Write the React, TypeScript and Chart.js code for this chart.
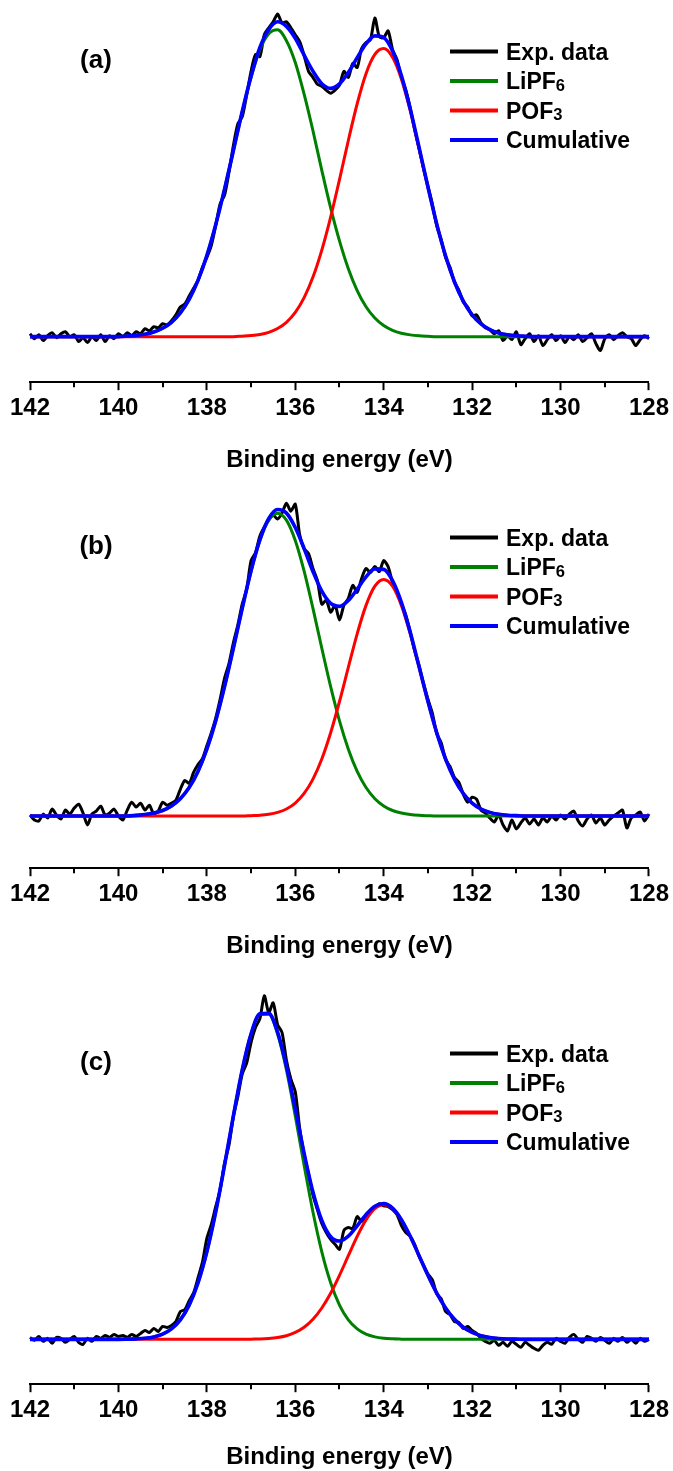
import React, { useEffect, useRef } from "react";
import { Chart, registerables } from "chart.js";

Chart.register(...registerables);

const FONT = "'Liberation Sans', Arial, Helvetica, sans-serif";

// Sampling of the spectra (binding energy, eV)
const EXP_START = 142;
const EXP_STEP = 0.1; // experimental data: 142.0 -> 128.0
const FIT_START = 142;
const FIT_STEP = 0.2; // fitted components: 142.0 -> 128.0

const xTickValues = [142, 140, 138, 136, 134, 132, 130, 128];
const xMinorTicks = [141, 139, 137, 135, 133, 131, 129];
const seriesLabels = ["Exp. data", "LiPF₆", "POF₃", "Cumulative"];
const seriesColors = ["#000000", "#008000", "#ff0000", "#0000ff"];
const panelLabels = ["(a)", "(b)", "(c)"];
const axisTitle = "Binding energy (eV)";

// ---------- Panel (a) ----------
const expA = [
  3, -2, 2, -4, 1, 4, -1, 3, 5, 0,
  2, -5, -1, -6, 0, -4, 2, -5, 1, -2,
  3, 0, 4, 1, 5, 3, 8, 6, 10, 9,
  13, 12, 16, 22, 30, 33, 41, 49, 57, 70,
  80, 92, 112, 134, 143, 166, 193, 215, 222, 244,
  268, 285, 283, 305, 312, 318, 326, 317, 318, 312,
  305, 298, 284, 268, 262, 255, 253, 249, 246, 249,
  254, 268, 262, 276, 272, 291, 297, 300, 322, 303,
  302, 309, 290, 280, 262, 249, 231, 209, 190, 170,
  152, 134, 112, 98, 80, 70, 55, 47, 35, 30,
  21, 22, 14, 9, 7, 3, 6, -4, 1, -3,
  5, -8, -2, 3, -5, 1, -9, -3, 2, -4,
  1, -6, 0, -3, 2, -5, -1, 3, -7, -14,
  -2, 2, -3, 1, 4, 0, -2, -9, -3, 1,
  -2,
];
const lipf6A = [
  0, 0, 0, 0, 0, 0, 0, 0, 0, 0, 0,
  0.6, 1.3, 2.5, 4.7, 8.5, 14.5, 23.9, 37.7, 56.8, 81.9,
  113, 149, 188, 227, 262, 290, 306, 310, 299, 277,
  245, 208, 168, 130, 96.7, 68.6, 46.6, 30.2, 18.8, 11.2,
  6.3, 3.4, 1.8, 0.9, 0.4,
  0, 0, 0, 0, 0, 0, 0, 0, 0, 0, 0, 0, 0, 0, 0, 0, 0, 0, 0, 0, 0, 0, 0, 0, 0,
];
const pof3A = [
  0, 0, 0, 0, 0, 0, 0, 0, 0, 0, 0, 0, 0, 0, 0, 0, 0, 0, 0, 0, 0, 0, 0, 0,
  0.5, 1.1, 2.2, 4.4, 8.2, 14.5, 24.5, 39.4, 60.2, 87.5,
  120.8, 158.7, 198.2, 235.3, 265.7, 285.1, 291, 282.2, 260.3, 228.3,
  190.3, 150.9, 113.7, 81.5, 55.5, 35.9, 22.1, 13.0, 7.2, 3.8,
  1.9, 0.9, 0.4,
  0, 0, 0, 0, 0, 0, 0, 0, 0, 0, 0, 0, 0, 0,
];

// ---------- Panel (b) ----------
const expB = [
  1, -4, -5, 2, -2, 7, 1, -3, 6, 2,
  8, 12, 3, -9, 2, 5, 10, 1, 3, 7,
  0, -4, 6, 14, 9, 13, 6, 11, 2, 5,
  14, 11, 13, 16, 27, 36, 33, 44, 52, 58,
  71, 84, 99, 118, 139, 154, 175, 193, 214, 229,
  258, 266, 283, 292, 299, 304, 300, 306, 316, 308,
  315, 284, 270, 265, 250, 238, 214, 218, 206, 213,
  198, 213, 220, 233, 226, 240, 250, 246, 252, 247,
  258, 252, 236, 226, 214, 203, 186, 167, 152, 134,
  118, 104, 83, 74, 57, 50, 39, 34, 22, 14,
  19, 17, 6, 3, -2, -6, 1, -9, -15, -4,
  -13, -7, -2, -8, -3, -9, -2, -6, 0, -4,
  1, -3, 2, 5, -5, -10, -3, 1, -7, -2,
  -9, -4, 0, 3, 6, -12, -2, 1, 4, -5,
  2,
];
const lipf6B = [
  0, 0, 0, 0, 0, 0, 0, 0, 0, 0, 0, 0,
  0.7, 1.5, 3.0, 5.6, 10.2, 17.5, 28.8, 45.1, 67.5, 96.1,
  130.7, 169.5, 209.7, 247.4, 278.4, 298.9, 306, 298.9, 278.4, 247.4,
  209.7, 169.5, 130.7, 96.1, 67.5, 45.1, 28.8, 17.5, 10.2, 5.6,
  3.0, 1.5, 0.7, 0.3,
  0, 0, 0, 0, 0, 0, 0, 0, 0, 0, 0, 0, 0, 0, 0, 0, 0, 0, 0, 0, 0, 0, 0, 0, 0,
];
const pof3B = [
  0, 0, 0, 0, 0, 0, 0, 0, 0, 0, 0, 0, 0, 0, 0, 0, 0, 0, 0, 0, 0, 0, 0, 0, 0,
  0.4, 0.8, 1.8, 3.7, 7.1, 13.1, 22.8, 37.3, 57.6, 84.1,
  115.7, 150.2, 184.1, 212.8, 232.2, 239, 232.2, 212.8, 184.1, 150.2,
  115.7, 84.1, 57.6, 37.3, 22.8, 13.1, 7.1, 3.7, 1.8, 0.8,
  0.4,
  0, 0, 0, 0, 0, 0, 0, 0, 0, 0, 0, 0, 0, 0, 0,
];

// ---------- Panel (c) ----------
const expC = [
  2, -1, 3, -2, 1, -4, 2, 1, -3, 0,
  3, -3, -5, 1, -2, 3, 1, 4, 2, 5,
  3, 4, 2, 5, 3, 6, 9, 7, 11, 8,
  13, 12, 14, 18, 28, 30, 39, 47, 62, 78,
  102, 116, 134, 151, 178, 196, 225, 245, 268, 279,
  300, 315, 324, 347, 330, 340, 318, 310, 282, 263,
  250, 213, 187, 167, 146, 131, 117, 108, 101, 96,
  91, 110, 113, 112, 124, 119, 125, 129, 133, 137,
  135, 134, 131, 126, 115, 108, 104, 96, 84, 75,
  66, 60, 46, 41, 28, 25, 18, 17, 11, 13,
  9, 6, 1, -2, -4, -1, -6, -3, -7, -2,
  -5, -8, -3, -6, -9, -11, -6, -3, -5, 1,
  -2, -4, 2, 5, 0, -3, 3, 1, -2, 2,
  -1, -4, 1, -2, 2, -3, 0, -4, 1, -2,
  0,
];
const lipf6C = [
  0, 0, 0, 0, 0, 0, 0, 0, 0, 0, 0,
  0.2, 0.5, 1.1, 2.5, 5.3, 10.6, 19.7, 34.6, 57.1, 88.4,
  128.6, 175.8, 225.7, 272.3, 308.5, 328.4, 328.4, 308.5, 272.3, 225.7,
  175.8, 128.6, 88.4, 57.1, 34.6, 19.7, 10.6, 5.3, 2.5, 1.1,
  0.5, 0.2,
  0, 0, 0, 0, 0, 0, 0, 0, 0, 0, 0, 0, 0, 0, 0, 0, 0, 0, 0, 0, 0, 0, 0, 0, 0, 0, 0, 0,
];
const pof3C = [
  0, 0, 0, 0, 0, 0, 0, 0, 0, 0, 0, 0, 0, 0, 0, 0, 0, 0, 0, 0, 0, 0, 0, 0, 0,
  0.2, 0.4, 0.9, 1.9, 3.7, 7.0, 12.2, 20.3, 31.7, 46.6,
  64.7, 84.5, 104.1, 120.7, 132.0, 136, 132.0, 120.7, 104.1, 84.5,
  64.7, 46.6, 31.7, 20.3, 12.2, 7.0, 3.7, 1.9, 0.9, 0.4,
  0.2,
  0, 0, 0, 0, 0, 0, 0, 0, 0, 0, 0, 0, 0, 0, 0,
];

type PanelCfg = {
  label: string;
  exp: number[];
  green: number[];
  red: number[];
  top: number;
  height: number;
  padTop: number;
  yMin: number;
  yMax: number;
  titleTop: number;
  titleBottom: number;
};

const panels: PanelCfg[] = [
  { label: panelLabels[0], exp: expA, green: lipf6A, red: pof3A, top: 0, height: 480, padTop: 10, yMin: -46, yMax: 330, titleTop: 21, titleBottom: 8 },
  { label: panelLabels[1], exp: expB, green: lipf6B, red: pof3B, top: 480, height: 490, padTop: 16, yMin: -52.7, yMax: 323.3, titleTop: 21, titleBottom: 12 },
  { label: panelLabels[2], exp: expC, green: lipf6C, red: pof3C, top: 970, height: 501, padTop: 42, yMin: -45.3, yMax: 330.7, titleTop: 16, titleBottom: 2 },
];

const SUBS = "₀₁₂₃₄₅₆₇₈₉";

function drawRich(ctx: CanvasRenderingContext2D, text: string, x: number, yMid: number, size: number) {
  // split into normal / subscript runs
  const runs: { t: string; sub: boolean }[] = [];
  for (const ch of text) {
    const si = SUBS.indexOf(ch);
    const sub = si >= 0;
    const c = sub ? String(si) : ch;
    const last = runs[runs.length - 1];
    if (last && last.sub === sub) last.t += c;
    else runs.push({ t: c, sub });
  }
  const baseline = yMid + size * 0.36;
  let cx = x;
  ctx.textAlign = "left";
  ctx.textBaseline = "alphabetic";
  for (const r of runs) {
    const s = r.sub ? size * 0.72 : size;
    ctx.font = `bold ${s}px ${FONT}`;
    ctx.fillText(r.t, cx, r.sub ? baseline + 1.5 : baseline);
    cx += ctx.measureText(r.t).width;
  }
}

const insidePlugin = {
  id: "inside",
  afterDraw(chart: any, _args: any, opts: any) {
    const { ctx, chartArea } = chart;
    ctx.save();
    // minor ticks
    const xs = chart.scales.x;
    ctx.strokeStyle = "#000";
    ctx.lineWidth = 2;
    for (const v of xMinorTicks) {
      const px = Math.round(xs.getPixelForValue(v));
      ctx.beginPath();
      ctx.moveTo(px, chartArea.bottom);
      ctx.lineTo(px, chartArea.bottom + 5);
      ctx.stroke();
    }
    // panel label
    ctx.fillStyle = "#000";
    ctx.font = `bold 26px ${FONT}`;
    ctx.textAlign = "center";
    ctx.textBaseline = "middle";
    ctx.fillText(opts.panel, 96, chartArea.top + 50.5);
    // legend
    chart.data.datasets.forEach((ds: any, i: number) => {
      const y = chartArea.top + 41.5 + i * 29.5;
      ctx.strokeStyle = ds.borderColor;
      ctx.lineWidth = 4;
      ctx.beginPath();
      ctx.moveTo(450, y);
      ctx.lineTo(498, y);
      ctx.stroke();
      ctx.fillStyle = "#000";
      drawRich(ctx, ds.label, 506, y, 23);
    });
    ctx.restore();
  },
};

function Panel({ cfg }: { cfg: PanelCfg }) {
  const ref = useRef<HTMLCanvasElement | null>(null);
  useEffect(() => {
    if (!ref.current) return;
    const expPts = cfg.exp.map((y, i) => ({ x: +(EXP_START - i * EXP_STEP).toFixed(2), y }));
    const fitX = (i: number) => +(FIT_START - i * FIT_STEP).toFixed(2);
    const greenPts = cfg.green.map((y, i) => ({ x: fitX(i), y }));
    const redPts = cfg.red.map((y, i) => ({ x: fitX(i), y }));
    const cumPts = cfg.green.map((g, i) => ({ x: fitX(i), y: +(g + cfg.red[i]).toFixed(2) }));
    const all = [expPts, greenPts, redPts, cumPts];
    const widths = [3, 3, 3, 3.6];
    const orders = [4, 3, 2, 1];
    const chart = new Chart(ref.current, {
      type: "line",
      data: {
        datasets: all.map((pts, i) => ({
          label: seriesLabels[i],
          data: pts,
          borderColor: seriesColors[i],
          backgroundColor: seriesColors[i],
          borderWidth: widths[i],
          pointRadius: 0,
          fill: false,
          order: orders[i],
          clip: false as any,
          tension: i === 0 ? 0.25 : 0,
          cubicInterpolationMode: i === 0 ? "default" : "monotone",
        })),
      },
      options: {
        animation: false,
        responsive: false,
        devicePixelRatio: 1,
        layout: { padding: { left: 30, right: 21, top: cfg.padTop, bottom: 0 } },
        plugins: {
          legend: { display: false },
          tooltip: { enabled: false },
          inside: { panel: cfg.label },
        } as any,
        scales: {
          x: {
            type: "linear",
            min: 128,
            max: 142,
            reverse: true,
            afterBuildTicks: (scale: any) => {
              scale.ticks = xTickValues.map((v) => ({ value: v }));
            },
            ticks: {
              autoSkip: false,
              maxRotation: 0,
              padding: 4,
              color: "#000",
              font: { family: FONT, size: 24, weight: "bold" },
              callback: (v: any) => String(v),
            },
            grid: {
              drawOnChartArea: false,
              drawTicks: true,
              tickLength: 8,
              tickWidth: 2,
              tickColor: "#000",
            },
            border: { display: true, color: "#000", width: 2 },
            title: {
              display: true,
              text: axisTitle,
              color: "#000",
              font: { family: FONT, size: 24, weight: "bold", lineHeight: 1 },
              padding: { top: cfg.titleTop, bottom: cfg.titleBottom },
            },
          },
          y: { display: false, min: cfg.yMin, max: cfg.yMax },
        },
      },
      plugins: [insidePlugin as any],
    });
    return () => chart.destroy();
  }, [cfg]);
  return (
    <canvas
      ref={ref}
      width={673}
      height={cfg.height}
      style={{ position: "absolute", left: 0, top: cfg.top, width: 673, height: cfg.height, display: "block" }}
    />
  );
}

export default function App() {
  return (
    <div style={{ position: "absolute", left: 0, top: 0, width: 673, height: 1471, overflow: "hidden", background: "#fff" }}>
      {panels.map((p, i) => (
        <Panel key={i} cfg={p} />
      ))}
    </div>
  );
}
